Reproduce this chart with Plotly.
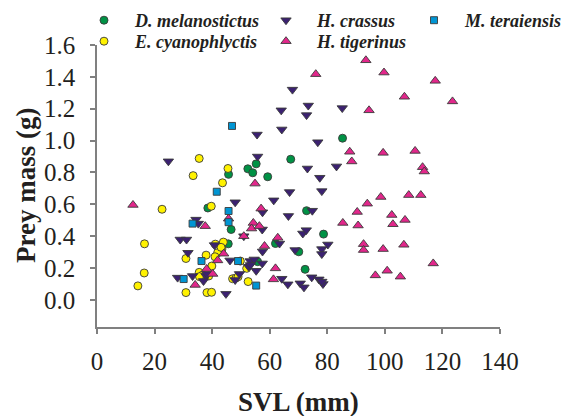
import plotly.graph_objects as go

# ---------------- data ----------------
dmel_svl = [55.3, 52.4, 54.1, 59.3, 45.7, 38.5, 46.6, 45.6, 62.0, 55.8, 85.3, 67.3, 72.8, 78.7, 70.1, 72.3]
dmel_mass = [0.854, 0.823, 0.798, 0.773, 0.788, 0.577, 0.442, 0.352, 0.354, 0.240, 1.015, 0.883, 0.560, 0.413, 0.302, 0.192]

ecy_svl = [35.5, 45.5, 33.4, 43.6, 22.6, 39.7, 16.5, 16.4, 14.2, 41.1, 43.9, 43.4, 41.9, 30.9, 37.9, 41.0,
           49.8, 52.0, 39.9, 35.5, 36.7, 35.6, 30.9, 38.2, 39.8, 47.1, 48.3, 49.0, 52.5, 38.8, 43.1]
ecy_mass = [0.888, 0.825, 0.780, 0.735, 0.569, 0.588, 0.352, 0.169, 0.088, 0.350, 0.363, 0.320, 0.296, 0.260, 0.281, 0.271,
            0.244, 0.198, 0.213, 0.173, 0.156, 0.146, 0.046, 0.046, 0.048, 0.133, 0.138, 0.145, 0.115, 0.150, 0.330]

hcr_svl = [55.6, 24.8, 55.8, 48.0, 61.4, 57.5, 34.4, 35.2, 57.4, 51.0, 28.9, 31.1, 40.8, 57.5, 31.6, 46.2,
           53.2, 54.6, 57.4, 55.3, 52.7, 37.9, 33.2, 37.0, 28.0, 44.8, 48.0, 49.5, 38.2, 67.9, 64.0, 73.4,
           72.8, 85.2, 64.2, 76.7, 73.1, 83.2, 77.4, 66.9, 78.1, 74.8, 66.5, 71.5, 72.7, 63.4, 80.2, 68.8,
           78.1, 78.1, 64.2, 66.3, 70.6, 71.9, 74.6, 77.1, 78.5, 78.1, 53.3]
hcr_mass = [1.038, 0.870, 0.900, 0.613, 0.625, 0.550, 0.504, 0.479, 0.442, 0.400, 0.379, 0.379, 0.344, 0.304, 0.296, 0.248,
            0.244, 0.254, 0.229, 0.183, 0.208, 0.150, 0.150, 0.119, 0.140, 0.038, 0.125, 0.163, 0.163, 1.320, 1.190, 1.220,
            1.160, 1.204, 1.070, 0.990, 0.825, 0.838, 0.767, 0.677, 0.683, 0.560, 0.527, 0.417, 0.438, 0.354, 0.348, 0.313,
            0.319, 0.288, 0.133, 0.098, 0.104, 0.079, 0.142, 0.129, 0.100, 0.115, 0.219]

hti_svl = [54.9, 12.5, 57.0, 45.7, 37.6, 54.3, 53.7, 56.4, 51.0, 58.2, 62.8, 41.9, 62.0, 38.1, 40.2, 34.1,
           44.0, 93.4, 76.0, 99.7, 117.5, 106.8, 123.5, 94.5, 87.8, 99.4, 110.5, 88.5, 113.1, 113.7, 98.6, 108.3,
           112.5, 93.9, 90.4, 102.4, 107.0, 85.4, 90.7, 102.8, 92.6, 92.6, 99.4, 106.6, 116.8, 61.3, 96.7, 100.8, 105.4]
hti_mass = [0.730, 0.596, 0.573, 0.510, 0.463, 0.483, 0.448, 0.463, 0.400, 0.338, 0.390, 0.248, 0.198, 0.194, 0.163, 0.094,
            0.290, 1.504, 1.417, 1.427, 1.375, 1.275, 1.246, 1.190, 0.930, 0.923, 0.935, 0.869, 0.833, 0.806, 0.646, 0.658,
            0.658, 0.604, 0.552, 0.533, 0.502, 0.483, 0.467, 0.475, 0.350, 0.313, 0.319, 0.346, 0.229, 0.129, 0.154, 0.183, 0.146]

mte_svl = [46.9, 41.6, 45.7, 45.7, 33.2, 36.3, 49.0, 30.1, 55.3]
mte_mass = [1.092, 0.679, 0.558, 0.488, 0.479, 0.244, 0.244, 0.131, 0.090]

species_names = ["D. melanostictus", "E. cyanophlyctis", "H. crassus", "H. tigerinus", "M. teraiensis"]

x_ticks = [0, 20, 40, 60, 80, 100, 120, 140]
x_tick_labels = ["0", "20", "40", "60", "80", "100", "120", "140"]
y_ticks = [0.0, 0.2, 0.4, 0.6, 0.8, 1.0, 1.2, 1.4, 1.6]
y_tick_labels = ["0.0", "0.2", "0.4", "0.6", "0.8", "1.0", "1.2", "1.4", "1.6"]
x_title = "SVL (mm)"
y_title = "Prey mass (g)"

# ---------------- styling ----------------
FONT = "Liberation Serif"
TXT = "#231F20"
AXC = "#808080"
W, H = 561, 416
ML, MR, MT, MB = 97, 61, 45, 89
PW, PH = W - ML - MR, H - MT - MB

# legend slot (left edge px, top px) for each series
series = [
    (species_names[0], dmel_svl, dmel_mass, "circle", "#009245", 8, "legend", 73, 2),
    (species_names[1], ecy_svl, ecy_mass, "circle", "#FFF200", 8, "legend2", 73, 23),
    (species_names[2], hcr_svl, hcr_mass, "triangle-down", "#3B2171", 9, "legend3", 255, 2),
    (species_names[3], hti_svl, hti_mass, "triangle-up", "#E2278B", 9, "legend4", 255, 23),
    (species_names[4], mte_svl, mte_mass, "square", "#0095D3", 7, "legend5", 403, 2),
]

legend_common = dict(
    xref="container", yref="container", xanchor="left", yanchor="top",
    font=dict(family=FONT, size=18, color=TXT, weight="bold", style="italic"),
    itemwidth=52, bgcolor="rgba(0,0,0,0)", borderwidth=0, orientation="v",
)

fig = go.Figure()
legends = {}
for name, xs, ys, sym, col, sz, leg, lx, ly in series:
    fig.add_trace(go.Scatter(
        x=xs, y=ys, mode="markers", name=name, legend=leg,
        marker=dict(symbol=sym, color=col, size=sz, line=dict(color="#3a3a3a", width=0.9)),
    ))
    legends[leg] = dict(legend_common, x=lx / W, y=1 - ly / H)

fig.update_layout(
    width=W, height=H,
    margin=dict(l=ML, r=MR, t=MT, b=MB, autoexpand=False),
    paper_bgcolor="white", plot_bgcolor="white",
    showlegend=True,
    **legends,
)

fig.update_xaxes(
    range=[0, 140], tickvals=x_ticks, ticktext=x_tick_labels,
    showline=True, linecolor=AXC, linewidth=1.5, mirror=False,
    ticks="outside", ticklen=5, tickwidth=1.5, tickcolor=AXC,
    showgrid=False, zeroline=False, automargin=False,
    tickfont=dict(family=FONT, size=25, color=TXT), ticklabelstandoff=6,
)
fig.update_yaxes(
    range=[-0.17, 1.6], tickvals=y_ticks, ticktext=y_tick_labels,
    showline=True, linecolor=AXC, linewidth=1.5, mirror=False,
    ticks="outside", ticklen=5, tickwidth=1.5, tickcolor=AXC,
    showgrid=False, zeroline=False, automargin=False,
    tickfont=dict(family=FONT, size=25, color=TXT), ticklabelstandoff=10,
)

title_font = dict(family=FONT, size=27, color=TXT, weight="bold")
fig.add_annotation(text=x_title, xref="paper", yref="paper",
                   x=0.5, y=(MT + PH - 402) / PH, xanchor="center", yanchor="middle",
                   showarrow=False, font=title_font)
fig.add_annotation(text=y_title, xref="paper", yref="paper",
                   x=(26 - ML) / PW, y=0.5, xanchor="center", yanchor="middle",
                   textangle=-90, showarrow=False, font=title_font)

fig.write_html("out.html", config={"displayModeBar": False},
               post_script="document.body.style.margin='0';document.body.style.overflow='hidden';")
